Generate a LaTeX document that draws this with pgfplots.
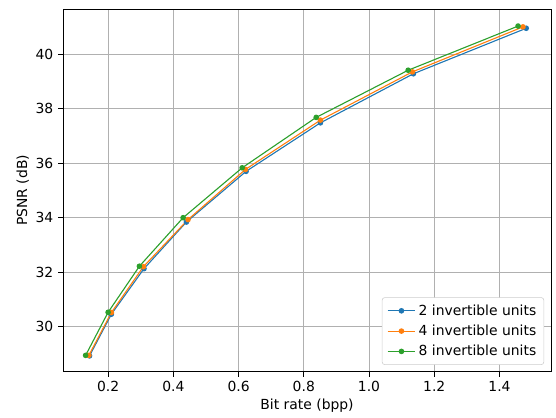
\documentclass[border=0pt]{standalone}
\usepackage{fontspec}
\setmainfont{DejaVu Sans}
\usepackage{pgfplots}
\pgfplotsset{compat=1.18}
\definecolor{tabblue}{HTML}{1F77B4}
\definecolor{taborange}{HTML}{FF7F0E}
\definecolor{tabgreen}{HTML}{2CA02C}
\definecolor{gridgray}{HTML}{B0B0B0}
\begin{document}
\fontsize{10pt}{12pt}\selectfont
\begin{tikzpicture}
\begin{axis}[
  scale only axis,
  width=351pt, height=261pt,
  xmin=0.062, xmax=1.558,
  ymin=28.345, ymax=41.655,
  xtick={0.2,0.4,0.6,0.8,1.0,1.2,1.4},
  ytick={30,32,34,36,38,40},
  xticklabel style={/pgf/number format/.cd,fixed,fixed zerofill,precision=1},
  /pgf/number format/assume math mode=true,
  ticklabel style={font=\fontsize{10pt}{12pt}\selectfont},
  tick align=outside,
  major tick length=3.5pt,
  tick style={black, line width=0.6pt},
  xtick pos=bottom, ytick pos=left,
  axis line style={line width=0.6pt},
  grid=major,
  major grid style={gridgray, line width=0.7pt},
  xlabel={Bit rate (bpp)},
  ylabel={PSNR (dB)},
  label style={font=\fontsize{10pt}{12pt}\selectfont},
  xlabel style={yshift=2pt},
  ylabel style={yshift=-2pt},
  legend style={font=\fontsize{10pt}{12pt}\selectfont, draw=gray!40, rounded corners=2pt,
    at={(0.986,0.019)}, anchor=south east, row sep=1.5pt, inner xsep=3.5pt, inner ysep=3pt},
  legend cell align=left,
  legend image code/.code={\draw[#1, mark=none] (0pt,0pt) -- (20pt,0pt); \draw[#1, only marks] plot coordinates {(10pt,0pt)};},
  every axis plot/.append style={line width=0.8pt, mark=*, mark size=1.6pt},
]
\addplot[color=tabblue, mark options={fill=tabblue, draw=tabblue}] coordinates {
  (0.143,28.93) (0.210,30.46) (0.310,32.13) (0.440,33.84) (0.623,35.70) (0.851,37.48) (1.136,39.28) (1.482,40.95)
};
\addlegendentry{2 invertible units}
\addplot[color=taborange, mark options={fill=taborange, draw=taborange}] coordinates {
  (0.141,28.95) (0.210,30.52) (0.308,32.20) (0.445,33.93) (0.621,35.77) (0.851,37.58) (1.133,39.35) (1.472,41.00)
};
\addlegendentry{4 invertible units}
\addplot[color=tabgreen, mark options={fill=tabgreen, draw=tabgreen}] coordinates {
  (0.131,28.95) (0.200,30.53) (0.296,32.22) (0.430,34.00) (0.611,35.83) (0.838,37.68) (1.120,39.41) (1.457,41.03)
};
\addlegendentry{8 invertible units}
\end{axis}
\path (current axis.south west) ++(-45.4pt,-33.1pt) coordinate (bbA);
\path (current axis.north east) ++(3.6pt,6.5pt) coordinate (bbB);
\path (bbA) (bbB);
\end{tikzpicture}
\end{document}
